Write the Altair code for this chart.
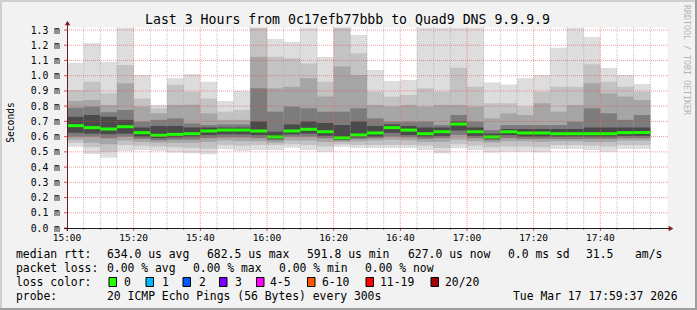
import altair as alt
import pandas as pd

# ---------------- chart values ----------------
slot_times = ["15:00", "15:05", "15:10", "15:15", "15:20", "15:25", "15:30", "15:35", "15:40", "15:45",
              "15:50", "15:55", "16:00", "16:05", "16:10", "16:15", "16:20", "16:25", "16:30", "16:35",
              "16:40", "16:45", "16:50", "16:55", "17:00", "17:05", "17:10", "17:15", "17:20", "17:25",
              "17:30", "17:35", "17:40", "17:45", "17:50"]

# smoke envelope (ms): outermost ping pair ... innermost pair
ping_max = [1.085, 1.213, 1.090, 1.315, 1.005, 0.808, 0.983, 1.011, 0.960, 0.834,
            0.900, 1.315, 1.241, 1.223, 1.315, 1.123, 1.315, 1.267, 1.037, 0.965,
            0.972, 1.315, 1.315, 1.315, 1.315, 0.955, 0.943, 0.983, 1.005, 1.184,
            1.315, 1.254, 1.050, 1.005, 0.946]
smoke_u1 = [0.906, 0.960, 0.884, 1.070, 0.850, 0.786, 0.940, 0.895, 0.850, 0.764,
            0.775, 1.315, 1.125, 1.114, 1.080, 0.960, 1.315, 1.147, 0.895, 0.863,
            0.873, 0.917, 0.895, 1.052, 0.928, 0.819, 0.819, 0.797, 0.895, 0.928,
            0.928, 1.075, 0.960, 0.928, 0.895]
smoke_u2 = [0.834, 0.840, 0.808, 0.950, 0.797, 0.753, 0.808, 0.810, 0.753, 0.710,
            0.710, 1.125, 0.917, 0.928, 0.983, 0.863, 1.060, 1.005, 0.808, 0.797,
            0.808, 0.797, 0.808, 0.808, 0.797, 0.720, 0.753, 0.742, 0.819, 0.764,
            0.808, 0.950, 0.884, 0.863, 0.840]
smoke_u3 = [0.790, 0.797, 0.760, 0.775, 0.698, 0.710, 0.720, 0.687, 0.676, 0.680,
            0.680, 0.917, 0.764, 0.797, 0.786, 0.764, 0.764, 0.786, 0.720, 0.698,
            0.698, 0.698, 0.676, 0.742, 0.698, 0.643, 0.676, 0.676, 0.676, 0.676,
            0.698, 0.786, 0.753, 0.710, 0.742]
smoke_u4 = [0.730, 0.742, 0.730, 0.710, 0.660, 0.670, 0.670, 0.660, 0.660, 0.660,
            0.660, 0.700, 0.632, 0.680, 0.700, 0.690, 0.676, 0.700, 0.670, 0.680,
            0.670, 0.660, 0.660, 0.700, 0.660, 0.620, 0.650, 0.650, 0.650, 0.650,
            0.650, 0.660, 0.660, 0.660, 0.660]
median_rtt = [0.672, 0.659, 0.650, 0.665, 0.626, 0.609, 0.615, 0.619, 0.637, 0.643,
              0.643, 0.637, 0.598, 0.637, 0.648, 0.632, 0.592, 0.611, 0.624, 0.659,
              0.643, 0.619, 0.632, 0.6825, 0.632, 0.598, 0.632, 0.624, 0.624, 0.619,
              0.619, 0.619, 0.619, 0.626, 0.627]
smoke_d4 = [0.625, 0.620, 0.615, 0.620, 0.600, 0.590, 0.595, 0.600, 0.610, 0.615,
            0.615, 0.610, 0.585, 0.615, 0.620, 0.605, 0.580, 0.595, 0.600, 0.625,
            0.610, 0.600, 0.605, 0.640, 0.605, 0.585, 0.610, 0.600, 0.600, 0.600,
            0.600, 0.600, 0.600, 0.605, 0.605]
smoke_d3 = [0.600, 0.600, 0.590, 0.600, 0.585, 0.575, 0.580, 0.580, 0.590, 0.595,
            0.595, 0.590, 0.575, 0.600, 0.600, 0.590, 0.575, 0.585, 0.590, 0.600,
            0.595, 0.585, 0.590, 0.610, 0.590, 0.575, 0.590, 0.585, 0.585, 0.585,
            0.585, 0.585, 0.585, 0.590, 0.590]
smoke_d2 = [0.580, 0.560, 0.550, 0.575, 0.565, 0.560, 0.560, 0.560, 0.565, 0.575,
            0.570, 0.570, 0.560, 0.575, 0.575, 0.565, 0.565, 0.570, 0.575, 0.580,
            0.575, 0.565, 0.565, 0.580, 0.570, 0.560, 0.570, 0.570, 0.565, 0.570,
            0.570, 0.565, 0.565, 0.575, 0.575]
smoke_d1 = [0.560, 0.530, 0.500, 0.545, 0.540, 0.535, 0.530, 0.525, 0.520, 0.545,
            0.540, 0.545, 0.545, 0.550, 0.545, 0.535, 0.550, 0.545, 0.545, 0.545,
            0.545, 0.540, 0.525, 0.550, 0.540, 0.530, 0.535, 0.535, 0.530, 0.545,
            0.545, 0.540, 0.535, 0.545, 0.545]
ping_min = [0.534, 0.486, 0.462, 0.506, 0.512, 0.506, 0.495, 0.490, 0.484, 0.517,
            0.506, 0.512, 0.512, 0.527, 0.512, 0.501, 0.534, 0.525, 0.525, 0.525,
            0.525, 0.512, 0.490, 0.523, 0.512, 0.495, 0.501, 0.501, 0.497, 0.519,
            0.519, 0.512, 0.501, 0.519, 0.519]

x_tick_minutes = [0, 20, 40, 60, 80, 100, 120, 140, 160]
x_tick_labels = ["15:00", "15:20", "15:40", "16:00", "16:20", "16:40", "17:00", "17:20", "17:40"]
y_tick_values = [0.0, 0.1, 0.2, 0.3, 0.4, 0.5, 0.6, 0.7, 0.8, 0.9, 1.0, 1.1, 1.2, 1.3]
y_tick_labels = ["0.0 m", "0.1 m", "0.2 m", "0.3 m", "0.4 m", "0.5 m", "0.6 m", "0.7 m",
                 "0.8 m", "0.9 m", "1.0 m", "1.1 m", "1.2 m", "1.3 m"]

title_text = "Last 3 Hours from 0c17efb77bbb to Quad9 DNS 9.9.9.9"
y_title = "Seconds"
side_text = "RRDTOOL / TOBI OETIKER"

legend_rows = [
    ["median rtt:", "634.0 us avg", "682.5 us max", "591.8 us min", "627.0 us now", "0.0 ms sd", "31.5", "am/s"],
    ["packet loss:", "0.00 % avg", "0.00 % max", "0.00 % min", "0.00 % now"],
    ["loss color:", "0", "1", "2", "3", "4-5", "6-10", "11-19", "20/20"],
    ["probe:", "20 ICMP Echo Pings (56 Bytes) every 300s", "Tue Mar 17 17:59:37 2026"],
]
loss_colors = ["#26ff00", "#00b8ff", "#0059ff", "#7e00ff", "#ff00ff", "#ff5500", "#ff0000", "#a10000"]

# ---------------- layout (pixels) ----------------
LEFT, TOP = 67, 27
W, H = 600, 201
TOTAL_W, TOTAL_H = 697, 310
PX_PER_MS = 152.3
YMAX = H / PX_PER_MS
MONO = "DejaVu Sans Mono"

legend_x = [
    [16, 107, 207, 307, 408, 508, 586, 635],
    [16, 107, 193, 279, 365],
    [16, 124, 162, 199, 235, 270, 322, 380, 445],
    [16, 107, 513],
]
legend_baseline = [258.3, 272.3, 286.3, 300.0]
box_x = [109, 146, 183, 219.5, 256.5, 307.5, 366, 431]
box_w, box_y0, box_y1 = 7.5, 277.5, 286.5


def to_min(t):
    h, m = t.split(":")
    return (int(h) - 15) * 60 + int(m)


xs = alt.Scale(domain=[0, 180], nice=False, zero=False)
ys = alt.Scale(domain=[0, YMAX], nice=False, zero=False)
PX = alt.Scale(domain=[0, 1], range=[0, 1])  # placeholder, not used

# ---------------- smoke ----------------
levels = [("L0", ping_min, ping_max), ("L1", smoke_d1, smoke_u1), ("L2", smoke_d2, smoke_u2),
          ("L3", smoke_d3, smoke_u3), ("L4", smoke_d4, smoke_u4)]
level_colors = ["#dddddd", "#c3c3c3", "#a6a6a6", "#7c7c7c", "#4a4a4a"]
rows = []
for lv, lo, hi in levels:
    for i, t in enumerate(slot_times):
        t0 = to_min(t)
        rows.append({"level": lv, "t0": t0, "t1": t0 + 5, "lo": lo[i], "hi": hi[i]})
smoke_df = pd.DataFrame(rows)

smoke = alt.Chart(smoke_df).mark_rect(clip=True).encode(
    x=alt.X("t0:Q", scale=xs, axis=None),
    x2="t1:Q",
    y=alt.Y("lo:Q", scale=ys, axis=None),
    y2="hi:Q",
    color=alt.Color("level:N", scale=alt.Scale(domain=[l[0] for l in levels], range=level_colors), legend=None),
)

med_df = pd.DataFrame({"t0": [to_min(t) for t in slot_times],
                       "t1": [to_min(t) + 5 for t in slot_times],
                       "med": median_rtt})
median = alt.Chart(med_df).mark_rule(color="#1eff00", strokeWidth=3).encode(
    x=alt.X("t0:Q", scale=xs, axis=None), x2="t1:Q",
    y=alt.Y("med:Q", scale=ys, axis=None),
)

# ---------------- grid ----------------
minor_x = [m for m in range(5, 180, 5) if m % 20 != 0]
major_x = [m for m in range(20, 180, 20)]
grid_minor = alt.Chart(pd.DataFrame({"m": minor_x})).mark_rule(
    color="#8f8f8f", opacity=0.55, strokeWidth=1, strokeDash=[1, 1]).encode(
    x=alt.X("m:Q", scale=xs, axis=None), y=alt.value(0), y2=alt.value(H))
grid_major = alt.Chart(pd.DataFrame({"m": major_x})).mark_rule(
    color="#de4f4f", opacity=0.55, strokeWidth=1, strokeDash=[1, 1]).encode(
    x=alt.X("m:Q", scale=xs, axis=None), y=alt.value(0), y2=alt.value(H))
grid_h = alt.Chart(pd.DataFrame({"v": y_tick_values[1:]})).mark_rule(
    color="#de4f4f", opacity=0.55, strokeWidth=1, strokeDash=[1, 1]).encode(
    y=alt.Y("v:Q", scale=ys, axis=None), x=alt.value(0), x2=alt.value(W + 1))

# ticks
tick_minor = alt.Chart(pd.DataFrame({"m": minor_x})).mark_rule(color="#8f8f8f", strokeWidth=1).encode(
    x=alt.X("m:Q", scale=xs, axis=None), y=alt.value(H), y2=alt.value(H + 2))
tick_major = alt.Chart(pd.DataFrame({"m": x_tick_minutes})).mark_rule(color="#de4f4f", strokeWidth=1).encode(
    x=alt.X("m:Q", scale=xs, axis=None), y=alt.value(H), y2=alt.value(H + 3))
tick_y = alt.Chart(pd.DataFrame({"v": y_tick_values})).mark_rule(color="#de4f4f", strokeWidth=1).encode(
    y=alt.Y("v:Q", scale=ys, axis=None), x=alt.value(-3), x2=alt.value(0))

# axes lines and arrows
axis_x = alt.Chart(pd.DataFrame({"a": [0]})).mark_rule(color="#1f1f1f", strokeWidth=1).encode(
    x=alt.value(-3), x2=alt.value(W + 2), y=alt.value(H + 0.5))
axis_y = alt.Chart(pd.DataFrame({"a": [0]})).mark_rule(color="#5a2222", strokeWidth=1).encode(
    x=alt.value(0.5), y=alt.value(-2), y2=alt.value(H + 3))
arrow_up = alt.Chart(pd.DataFrame({"a": [0]})).mark_point(
    shape="triangle-up", filled=True, color="#801f1f", opacity=1, size=30).encode(
    x=alt.value(0.5), y=alt.value(-4))
arrow_right = alt.Chart(pd.DataFrame({"a": [0]})).mark_point(
    shape="triangle-right", filled=True, color="#801f1f", opacity=1, size=30).encode(
    x=alt.value(W + 4), y=alt.value(H + 0.5))

# tick labels
xlab = alt.Chart(pd.DataFrame({"m": x_tick_minutes, "lab": x_tick_labels})).mark_text(
    font=MONO, fontSize=9.5, color="#000000", align="center", baseline="alphabetic").encode(
    x=alt.X("m:Q", scale=xs, axis=None), y=alt.value(241 - TOP), text="lab:N")
ylab = alt.Chart(pd.DataFrame({"v": y_tick_values, "lab": y_tick_labels})).mark_text(
    font=MONO, fontSize=9.75, color="#000000", align="right", baseline="alphabetic", dy=3.5).encode(
    y=alt.Y("v:Q", scale=ys, axis=None), x=alt.value(60 - LEFT), text="lab:N")


def text_layer(txt, x, y, size, color="#000000", angle=0, align="left", baseline="alphabetic"):
    return alt.Chart(pd.DataFrame({"t": [txt]})).mark_text(
        font=MONO, fontSize=size, color=color, angle=angle, align=align, baseline=baseline).encode(
        x=alt.value(x - LEFT), y=alt.value(y - TOP), text="t:N")


texts = [
    text_layer(title_text, 347.5, 24, 13.2, align="center"),
    text_layer(y_title, 14, 122.5, 9.6, angle=270, align="center"),
    text_layer(side_text, 684, 5, 8.3, color="#b4b4b4", angle=90, align="left"),
]
for r, row in enumerate(legend_rows):
    for c, seg in enumerate(row):
        texts.append(text_layer(seg, legend_x[r][c], legend_baseline[r], 11.4))

boxes = []
for i, col in enumerate(loss_colors):
    boxes.append(alt.Chart(pd.DataFrame({"a": [0]})).mark_rect(
        color=col, stroke="#000000", strokeWidth=1).encode(
        x=alt.value(box_x[i] - LEFT), x2=alt.value(box_x[i] + box_w - LEFT),
        y=alt.value(box_y0 - TOP), y2=alt.value(box_y1 - TOP)))

# frame of the whole image
frame = [
    alt.Chart(pd.DataFrame({"a": [0]})).mark_rect(color="#cfcfcf").encode(
        x=alt.value(-LEFT), x2=alt.value(TOTAL_W - LEFT), y=alt.value(-TOP), y2=alt.value(-TOP + 2)),
    alt.Chart(pd.DataFrame({"a": [0]})).mark_rect(color="#cfcfcf").encode(
        x=alt.value(-LEFT), x2=alt.value(-LEFT + 2), y=alt.value(-TOP), y2=alt.value(TOTAL_H - TOP)),
    alt.Chart(pd.DataFrame({"a": [0]})).mark_rect(color="#9e9e9e").encode(
        x=alt.value(-LEFT), x2=alt.value(TOTAL_W - LEFT), y=alt.value(TOTAL_H - TOP - 2), y2=alt.value(TOTAL_H - TOP)),
    alt.Chart(pd.DataFrame({"a": [0]})).mark_rect(color="#9e9e9e").encode(
        x=alt.value(TOTAL_W - LEFT - 2), x2=alt.value(TOTAL_W - LEFT), y=alt.value(-TOP), y2=alt.value(TOTAL_H - TOP)),
]

chart = alt.layer(
    smoke, median, grid_minor, grid_major, grid_h,
    tick_minor, tick_major, tick_y, axis_x, axis_y, arrow_up, arrow_right,
    xlab, ylab, *texts, *boxes, *frame
).properties(
    width=W, height=H,
    padding={"left": LEFT, "top": TOP, "right": TOTAL_W - LEFT - W, "bottom": TOTAL_H - TOP - H},
    autosize=alt.AutoSizeParams(type="none"),
    background="#f2f2f2",
).configure_view(fill="#ffffff", stroke="transparent")

chart.save("out.html", embed_options={"renderer": "svg", "actions": False})
